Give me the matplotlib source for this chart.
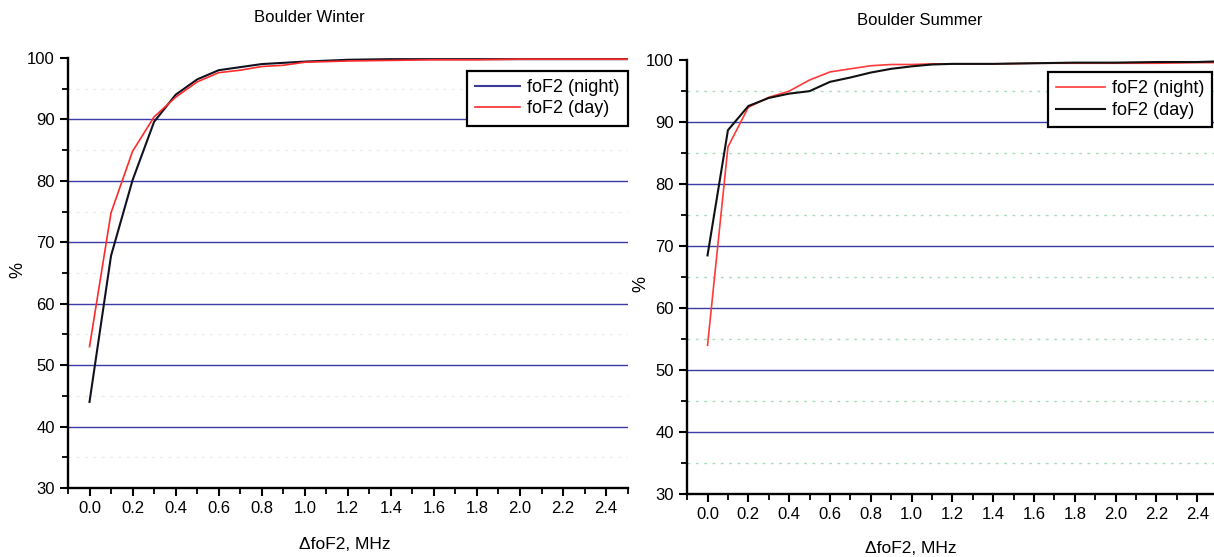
import numpy as np
import matplotlib.pyplot as plt
from matplotlib.ticker import MultipleLocator

plt.rcParams['font.family'] = ['Liberation Sans', 'DejaVu Sans']

# Boulder Winter
winter_x = [0.0, 0.1, 0.2, 0.3, 0.4, 0.5, 0.6, 0.7, 0.8, 0.9, 1.0, 1.2, 1.4, 1.6, 1.8, 2.0, 2.2, 2.4, 2.5]
winter_night = [44, 67.8, 80.1, 89.6, 94.0, 96.5, 98.0, 98.5, 99.0, 99.2, 99.4, 99.7, 99.8, 99.8, 99.8, 99.8, 99.8, 99.8, 99.8]
winter_day = [53, 74.8, 84.8, 90.4, 93.6, 96.1, 97.6, 98.0, 98.6, 98.8, 99.3, 99.5, 99.6, 99.7, 99.7, 99.8, 99.8, 99.8, 99.8]

# Boulder Summer
summer_x = [0.0, 0.1, 0.2, 0.3, 0.4, 0.5, 0.6, 0.7, 0.8, 0.9, 1.0, 1.1, 1.2, 1.4, 1.6, 1.8, 2.0, 2.2, 2.4, 2.5]
summer_night = [54, 86.0, 92.4, 94.0, 95.0, 96.8, 98.1, 98.6, 99.1, 99.3, 99.3, 99.4, 99.4, 99.4, 99.5, 99.5, 99.5, 99.5, 99.6, 99.6]
summer_day = [68.5, 88.7, 92.6, 93.9, 94.6, 95.0, 96.5, 97.2, 98.0, 98.6, 99.0, 99.3, 99.4, 99.4, 99.5, 99.6, 99.6, 99.7, 99.7, 99.8]

xticks = [0.0, 0.2, 0.4, 0.6, 0.8, 1.0, 1.2, 1.4, 1.6, 1.8, 2.0, 2.2, 2.4]

fig = plt.figure(figsize=(12.14, 5.57), dpi=100)
ax1 = fig.add_axes([0.056, 0.124, 0.461, 0.772])
ax2 = fig.add_axes([0.566, 0.113, 0.437, 0.779])


def style_axis(ax, minor_color):
    ax.set_xlim(-0.1, 2.5)
    ax.set_ylim(30, 100)
    ax.set_xticks(xticks)
    ax.set_xticklabels([f'{t:.1f}' for t in xticks])
    ax.xaxis.set_minor_locator(MultipleLocator(0.1))
    ax.yaxis.set_major_locator(MultipleLocator(10))
    ax.yaxis.set_minor_locator(MultipleLocator(5))
    ax.spines['top'].set_visible(False)
    ax.spines['right'].set_visible(False)
    ax.spines['left'].set_linewidth(1.7)
    ax.spines['bottom'].set_linewidth(1.7)
    ax.tick_params(which='major', direction='out', length=6, width=1.5, labelsize=12)
    ax.tick_params(which='minor', direction='out', length=4, width=1.3)
    # grid lines
    for g in range(40, 100, 10):
        ax.axhline(g, color='#3a3aa8', lw=1.0, zorder=1)
    for g in range(35, 100, 10):
        ax.axhline(g, color=minor_color, lw=1.0, ls=(0, (2, 4)), zorder=1)


style_axis(ax1, '#ececec')
style_axis(ax2, '#a8dcbc')

ax1.plot(winter_x, winter_night, color='#111122', lw=1.5, label='foF2 (night)', zorder=3)
ax1.plot(winter_x, winter_day, color='#ff2a2a', lw=1.2, label='foF2 (day)', zorder=3)
leg1 = ax1.legend(loc='upper right', bbox_to_anchor=(1.0, 0.97), borderaxespad=0,
                  fancybox=False, framealpha=1, edgecolor='black', fontsize=13,
                  handlelength=2.5, handletextpad=0.4, labelspacing=0.25,
                  borderpad=0.45)
leg1.get_frame().set_linewidth(1.6)
leg1.get_lines()[0].set_color('#3a3a99')

ax2.plot(summer_x, summer_night, color='#ff3a3a', lw=1.2, label='foF2 (night)', zorder=3)
ax2.plot(summer_x, summer_day, color='#111111', lw=1.5, label='foF2 (day)', zorder=3)
leg2 = ax2.legend(loc='upper right', bbox_to_anchor=(0.99, 0.972), borderaxespad=0,
                  fancybox=False, framealpha=1, edgecolor='black', fontsize=13,
                  handlelength=2.7, handletextpad=0.4, labelspacing=0.25,
                  borderpad=0.45)
leg2.get_frame().set_linewidth(1.6)

fig.text(0.255, 0.968, 'Boulder Winter', ha='center', va='center', fontsize=12)
fig.text(0.758, 0.964, 'Boulder Summer', ha='center', va='center', fontsize=12)
fig.text(0.015, 0.515, '%', rotation=90, ha='center', va='center', fontsize=13)
fig.text(0.528, 0.49, '%', rotation=90, ha='center', va='center', fontsize=13)
fig.text(0.284, 0.022, '\u0394foF2, MHz', ha='center', va='center', fontsize=12.5)
fig.text(0.75, 0.016, '\u0394foF2, MHz', ha='center', va='center', fontsize=12.5)

fig.savefig('out.png', dpi=100)
